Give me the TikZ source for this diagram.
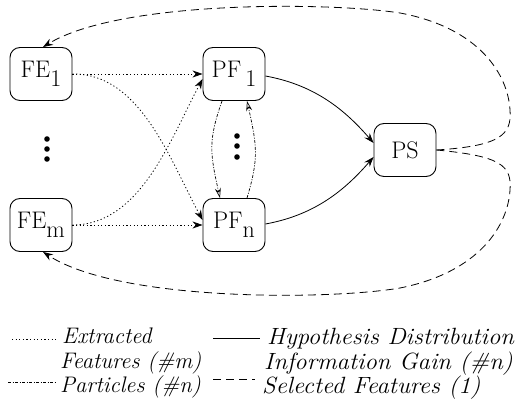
\documentclass[tikz,border=0pt]{standalone}
\usepackage{fontspec}
\newfontfamily\legfont{Latin Modern Roman}[FakeStretch=1.05]
\usetikzlibrary{arrows.meta}
\newcommand\lowidx[1]{\raisebox{-0.36em}{#1}}
\begin{document}
\begin{tikzpicture}[x=1pt,y=-1pt,
  box/.style={draw, line width=0.9pt, rounded corners=10pt, minimum width=62pt,
    minimum height=53pt, inner sep=0pt, font=\rmfamily\fontsize{24}{26}\selectfont},
  tip/.style={-{Stealth[length=10pt,width=7pt]}},
  feat/.style={tip, line width=0.8pt, dash pattern=on 1.2pt off 2.4pt},
  hyp/.style={tip, line width=0.8pt},
  part/.style={line width=0.7pt, dash pattern=on 3pt off 1.5pt on 1pt off 1.5pt,
    -{Stealth[open,length=10pt,width=6pt]}},
  sel/.style={tip, line width=0.8pt, dash pattern=on 8pt off 5pt},
  legtext/.style={anchor=base west, inner sep=0pt, align=left,
    font=\legfont\itshape\fontsize{23.5}{24.5}\selectfont},
  legleft/.style={legtext, font=\rmfamily\itshape\fontsize{22.5}{24.5}\selectfont},
  dot/.style={fill=black, radius=2.8pt}]
\useasboundingbox (0,0) rectangle (516,411);

% feature extractors, particle filters and the selector
\node[box] (fe1) at (41,74) {FE\lowidx{1}};
\node[box] (fem) at (41,225) {FE\lowidx{m}};
\node[box] (pf1) at (234,74) {PF\,\lowidx{1}};
\node[box] (pfn) at (234,225) {PF\lowidx{n}};
\node[box] (ps) at (405,150) {PS};

% vertical ellipses
\fill (47,139) circle[dot] (47,149) circle[dot] (47,159) circle[dot];
\fill (237,136) circle[dot] (237,146) circle[dot] (237,157) circle[dot];

% extracted features
\draw[feat] (fe1.east) -- (pf1.west);
\draw[feat] (fem.east) -- (pfn.west);
\draw[feat] (fe1.east) .. controls (140,73) and (170,160) .. ([yshift=5pt]pfn.west);
\draw[feat] (fem.east) .. controls (140,225) and (170,140) .. ([yshift=-5pt]pf1.west);

% particles exchanged between the filters
\draw[part] ([xshift=-12pt]pf1.south) .. controls +(-14,40) and +(-10,-45) .. ([xshift=-14pt]pfn.north);
\draw[part] ([xshift=13pt]pfn.north) .. controls +(12,-40) and +(10,45) .. ([xshift=13pt]pf1.south);

% hypothesis distribution / information gain
\draw[hyp] ([yshift=-2pt]pf1.east) .. controls (315,85) and (345,110) .. ([yshift=7pt]ps.west);
\draw[hyp] ([yshift=1pt]pfn.east) .. controls (315,215) and (345,190) .. ([yshift=-7pt]ps.west);

% selected features fed back
\coordinate (top1) at (510,110);
\coordinate (top2) at (400,13);
\coordinate (bot1) at (510,190);
\coordinate (bot2) at (400,288);
\draw[sel] (ps.east) .. controls (500,146) and (512,135) .. (top1)
  .. controls (508,75) and (480,28) .. (top2)
  .. controls (330,2) and (120,0) .. ([xshift=2pt]fe1.north);
\draw[sel] (ps.east) .. controls (500,156) and (512,165) .. (bot1)
  .. controls (508,225) and (480,272) .. (bot2)
  .. controls (330,300) and (120,302) .. ([xshift=2pt]fem.south);

% legend
\coordinate (l1a) at (12,339); \coordinate (l1b) at (57,339);
\coordinate (l2a) at (213,338); \coordinate (l2b) at (260,338);
\coordinate (l3a) at (8,382); \coordinate (l3b) at (57,382);
\coordinate (l4a) at (213,379); \coordinate (l4b) at (255,379);
\draw[line width=0.8pt, dash pattern=on 1.2pt off 2.4pt] (l1a) -- (l1b);
\draw[line width=0.8pt] (l2a) -- (l2b);
\draw[line width=0.7pt, dash pattern=on 3pt off 1.5pt on 1pt off 1.5pt] (l3a) -- (l3b);
\draw[line width=0.8pt, dash pattern=on 8pt off 5pt] (l4a) -- (l4b);
\node[legleft] (lgl) at (60,392) {\hspace*{2pt}Extracted\\Features (\#m)\\[-0.5pt]Particles (\#n)};
\node[legtext] (lgr) at (264,393) {\hspace*{3pt}Hypothesis Distribution\\Information Gain (\#n)\\[-0.5pt]\hspace*{-2pt}Selected Features (1)};
\end{tikzpicture}
\end{document}
